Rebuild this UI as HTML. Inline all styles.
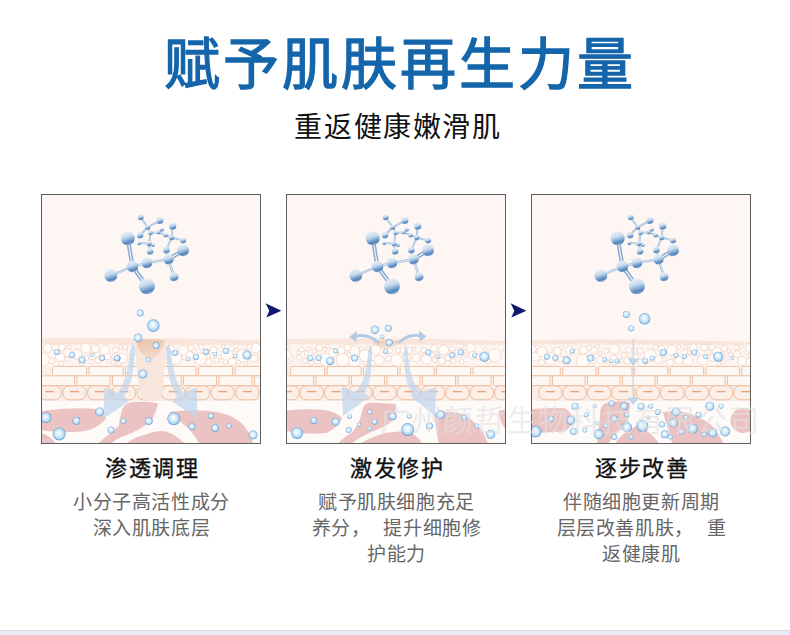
<!DOCTYPE html>
<html lang="zh-CN"><head><meta charset="utf-8"><style>
*{margin:0;padding:0;box-sizing:border-box}
html,body{width:790px;height:635px;overflow:hidden;background:#fff}
body{position:relative;font-family:"Liberation Sans",sans-serif}
.t{position:absolute;white-space:nowrap}
#title{left:5px;width:790px;text-align:center;top:19px;font-size:56px;font-weight:normal;-webkit-text-stroke:1.3px #1465aa;color:#1465aa;letter-spacing:3px}
#sub{left:3px;width:790px;text-align:center;top:105px;font-size:28px;color:#111;letter-spacing:1.6px}
.box{position:absolute;top:194px;width:220px;height:250px;border:1px solid #5e5e5e;background:#fdf6f3;overflow:hidden}
.box svg{position:absolute;left:0;top:0}
.h{position:absolute;top:450px;width:220px;text-align:center;font-size:22px;color:#111;-webkit-text-stroke:0.35px #111;letter-spacing:1.5px;padding-left:2px}
.d{position:absolute;top:490px;width:220px;text-align:center;font-size:19px;line-height:26px;color:#666;font-weight:300;letter-spacing:0.6px;padding-left:1px}
.arr{position:absolute}
#wm{left:380px;top:396px;font-size:30px;font-weight:300;letter-spacing:1.7px;color:rgba(226,226,226,0.62)}
#strip{position:absolute;left:0;top:630px;width:790px;height:5px;background:#e9ecf5;border-top:1px solid #d8dbe1}
</style></head>
<body>
<div class="t" id="title">赋予肌肤再生力量</div>
<div class="t" id="sub">重返健康嫩滑肌</div>
<div class="box" style="left:41px"><svg width="220" height="250" viewBox="41 194 220 250" style="left:-1px;top:-1px"><defs>
<linearGradient id="atom" x1="0.3" y1="0" x2="0.6" y2="1">
<stop offset="0" stop-color="#eaf2f9"/><stop offset="0.4" stop-color="#c9dcee"/><stop offset="0.62" stop-color="#8bb0d7"/><stop offset="0.82" stop-color="#5583b8"/><stop offset="1" stop-color="#98b8da"/></linearGradient>
<radialGradient id="bub" cx="0.5" cy="0.5" r="0.55" fx="0.45" fy="0.4">
<stop offset="0" stop-color="#ffffff"/><stop offset="0.45" stop-color="#d6edfb"/><stop offset="0.75" stop-color="#9fcff2"/><stop offset="0.9" stop-color="#5190d0"/><stop offset="1" stop-color="#9ccbf0"/></radialGradient>
<linearGradient id="arrg" x1="0" y1="0" x2="0" y2="1"><stop offset="0" stop-color="#c9dbee" stop-opacity="0.5"/><stop offset="1" stop-color="#bcd3ea" stop-opacity="0.85"/></linearGradient>
<linearGradient id="pore" x1="0" y1="0" x2="0.3" y2="1"><stop offset="0" stop-color="#e8c2a6"/><stop offset="1" stop-color="#f3dccd"/></linearGradient>
</defs><rect x="41" y="194" width="220" height="250" fill="#fdf6f3"/><g transform="translate(0,0)"><line x1="140.6" y1="217.3" x2="147.7" y2="227.2" stroke="#8fb3d8" stroke-width="1.7999999999999998"/><line x1="140.6" y1="217.3" x2="147.7" y2="227.2" stroke="#d6e6f4" stroke-width="0.7999999999999999"/><line x1="159.9" y1="220.6" x2="147.7" y2="227.2" stroke="#8fb3d8" stroke-width="1.7999999999999998"/><line x1="159.9" y1="220.6" x2="147.7" y2="227.2" stroke="#d6e6f4" stroke-width="0.7999999999999999"/><line x1="147.7" y1="227.2" x2="140.1" y2="235.2" stroke="#8fb3d8" stroke-width="1.7999999999999998"/><line x1="147.7" y1="227.2" x2="140.1" y2="235.2" stroke="#d6e6f4" stroke-width="0.7999999999999999"/><line x1="147.7" y1="227.2" x2="150.5" y2="232.9" stroke="#8fb3d8" stroke-width="1.7999999999999998"/><line x1="147.7" y1="227.2" x2="150.5" y2="232.9" stroke="#d6e6f4" stroke-width="0.7999999999999999"/><line x1="150.5" y1="232.9" x2="149.1" y2="243.7" stroke="#8fb3d8" stroke-width="1.7999999999999998"/><line x1="150.5" y1="232.9" x2="149.1" y2="243.7" stroke="#d6e6f4" stroke-width="0.7999999999999999"/><line x1="149.1" y1="243.7" x2="139.2" y2="243.2" stroke="#8fb3d8" stroke-width="1.7999999999999998"/><line x1="149.1" y1="243.7" x2="139.2" y2="243.2" stroke="#d6e6f4" stroke-width="0.7999999999999999"/><line x1="149.1" y1="243.7" x2="152.9" y2="245.1" stroke="#8fb3d8" stroke-width="1.7999999999999998"/><line x1="149.1" y1="243.7" x2="152.9" y2="245.1" stroke="#d6e6f4" stroke-width="0.7999999999999999"/><line x1="149.1" y1="243.7" x2="150.0" y2="251.3" stroke="#8fb3d8" stroke-width="1.7999999999999998"/><line x1="149.1" y1="243.7" x2="150.0" y2="251.3" stroke="#d6e6f4" stroke-width="0.7999999999999999"/><line x1="150.5" y1="232.9" x2="158.5" y2="232.4" stroke="#8fb3d8" stroke-width="1.7999999999999998"/><line x1="150.5" y1="232.9" x2="158.5" y2="232.4" stroke="#d6e6f4" stroke-width="0.7999999999999999"/><line x1="158.5" y1="232.4" x2="161.8" y2="229.6" stroke="#8fb3d8" stroke-width="1.7999999999999998"/><line x1="158.5" y1="232.4" x2="161.8" y2="229.6" stroke="#d6e6f4" stroke-width="0.7999999999999999"/><line x1="158.5" y1="232.4" x2="165.6" y2="235.2" stroke="#8fb3d8" stroke-width="1.7999999999999998"/><line x1="158.5" y1="232.4" x2="165.6" y2="235.2" stroke="#d6e6f4" stroke-width="0.7999999999999999"/><line x1="165.6" y1="235.2" x2="171.7" y2="237.6" stroke="#8fb3d8" stroke-width="1.7999999999999998"/><line x1="165.6" y1="235.2" x2="171.7" y2="237.6" stroke="#d6e6f4" stroke-width="0.7999999999999999"/><line x1="172.7" y1="226.2" x2="171.7" y2="237.6" stroke="#8fb3d8" stroke-width="1.7999999999999998"/><line x1="172.7" y1="226.2" x2="171.7" y2="237.6" stroke="#d6e6f4" stroke-width="0.7999999999999999"/><line x1="171.7" y1="237.6" x2="183.1" y2="240.4" stroke="#8fb3d8" stroke-width="1.7999999999999998"/><line x1="171.7" y1="237.6" x2="183.1" y2="240.4" stroke="#d6e6f4" stroke-width="0.7999999999999999"/><line x1="171.7" y1="237.6" x2="166.3" y2="250.0" stroke="#8fb3d8" stroke-width="1.7999999999999998"/><line x1="171.7" y1="237.6" x2="166.3" y2="250.0" stroke="#d6e6f4" stroke-width="0.7999999999999999"/><line x1="166.3" y1="250.0" x2="168.5" y2="259.3" stroke="#8fb3d8" stroke-width="2.2"/><line x1="166.3" y1="250.0" x2="168.5" y2="259.3" stroke="#d6e6f4" stroke-width="1.2000000000000002"/><line x1="168.5" y1="259.3" x2="174.0" y2="276.7" stroke="#8fb3d8" stroke-width="2.2"/><line x1="168.5" y1="259.3" x2="174.0" y2="276.7" stroke="#d6e6f4" stroke-width="1.2000000000000002"/><line x1="132.5" y1="266.5" x2="110.8" y2="275.5" stroke="#8fb3d8" stroke-width="2.2"/><line x1="132.5" y1="266.5" x2="110.8" y2="275.5" stroke="#d6e6f4" stroke-width="1.2000000000000002"/><line x1="132.5" y1="266.5" x2="146.9" y2="262.9" stroke="#8fb3d8" stroke-width="2.2"/><line x1="132.5" y1="266.5" x2="146.9" y2="262.9" stroke="#d6e6f4" stroke-width="1.2000000000000002"/><line x1="146.9" y1="262.9" x2="168.5" y2="259.3" stroke="#8fb3d8" stroke-width="2.2"/><line x1="146.9" y1="262.9" x2="168.5" y2="259.3" stroke="#d6e6f4" stroke-width="1.2000000000000002"/><line x1="126.4" y1="238.4" x2="131.2" y2="266.7" stroke="#86acd4" stroke-width="1.5"/><line x1="129.0" y1="238.0" x2="133.8" y2="266.3" stroke="#86acd4" stroke-width="1.5"/><line x1="131.4" y1="267.3" x2="145.8" y2="287.1" stroke="#86acd4" stroke-width="1.5"/><line x1="133.6" y1="265.7" x2="148.0" y2="285.5" stroke="#86acd4" stroke-width="1.5"/><line x1="169.2" y1="260.4" x2="183.7" y2="251.4" stroke="#86acd4" stroke-width="1.5"/><line x1="167.8" y1="258.2" x2="182.3" y2="249.2" stroke="#86acd4" stroke-width="1.5"/><circle cx="158.5" cy="232.4" r="2.0" fill="url(#atom)"/><circle cx="139.2" cy="243.2" r="2.0" fill="url(#atom)"/><circle cx="152.9" cy="245.1" r="2.0" fill="url(#atom)"/><circle cx="161.8" cy="229.6" r="2.2" fill="url(#atom)"/><circle cx="150.5" cy="232.9" r="2.4" fill="url(#atom)"/><circle cx="165.6" cy="235.2" r="2.4" fill="url(#atom)"/><circle cx="147.7" cy="227.2" r="2.6" fill="url(#atom)"/><circle cx="149.1" cy="243.7" r="2.6" fill="url(#atom)"/><circle cx="171.7" cy="237.6" r="2.8" fill="url(#atom)"/><circle cx="140.6" cy="217.3" r="3.0" fill="url(#atom)"/><circle cx="183.1" cy="240.4" r="3.0" fill="url(#atom)"/><circle cx="140.1" cy="235.2" r="3.2" fill="url(#atom)"/><circle cx="150.0" cy="251.3" r="3.4" fill="url(#atom)"/><circle cx="166.3" cy="250.0" r="3.4" fill="url(#atom)"/><circle cx="159.9" cy="220.6" r="3.5" fill="url(#atom)"/><circle cx="172.7" cy="226.2" r="3.6" fill="url(#atom)"/><circle cx="174.0" cy="276.7" r="4.5" fill="url(#atom)"/><circle cx="168.5" cy="259.3" r="5.2" fill="url(#atom)"/><circle cx="146.9" cy="262.9" r="5.4" fill="url(#atom)"/><circle cx="132.5" cy="266.5" r="5.8" fill="url(#atom)"/><circle cx="183.0" cy="250.3" r="6.0" fill="url(#atom)"/><circle cx="110.8" cy="275.5" r="6.5" fill="url(#atom)"/><circle cx="127.7" cy="238.2" r="7.0" fill="url(#atom)"/><circle cx="146.9" cy="286.3" r="8.0" fill="url(#atom)"/></g><rect x="41" y="399" width="220" height="46" fill="#fefaf8"/><path d="M41 338.5 Q151 337.0 261 340.5 L261 401 L41 401 Z" fill="#fbeee7"/><path d="M41 338.5 Q151 337.0 261 340.5 L261 345 L41 344.5 Z" fill="#f9e5db"/><path d="M41 344.5 L261 345 L261 366.4 L41 366.4 Z" fill="#fdf5f1"/><circle cx="166.2" cy="360.0" r="3.0" fill="#fffcfa" stroke="#f1d3c1" stroke-width="0.8"/><circle cx="97.1" cy="354.9" r="2.5" fill="#fffcfa" stroke="#f1d3c1" stroke-width="0.8"/><circle cx="144.9" cy="353.5" r="6.0" fill="#fffcfa" stroke="#f1d3c1" stroke-width="0.8"/><circle cx="61.6" cy="347.5" r="3.5" fill="#fffcfa" stroke="#f1d3c1" stroke-width="0.8"/><circle cx="136.2" cy="358.7" r="5.0" fill="#fffcfa" stroke="#f1d3c1" stroke-width="0.8"/><circle cx="194.1" cy="350.9" r="2.0" fill="#fffcfa" stroke="#f1d3c1" stroke-width="0.8"/><circle cx="171.1" cy="348.7" r="3.5" fill="#fffcfa" stroke="#f1d3c1" stroke-width="0.8"/><circle cx="47.7" cy="348.1" r="4.5" fill="#fffcfa" stroke="#f1d3c1" stroke-width="0.8"/><circle cx="43.0" cy="359.7" r="6.5" fill="#fffcfa" stroke="#f1d3c1" stroke-width="0.8"/><circle cx="254.2" cy="358.6" r="3.5" fill="#fffcfa" stroke="#f1d3c1" stroke-width="0.8"/><circle cx="162.6" cy="353.0" r="6.0" fill="#fffcfa" stroke="#f1d3c1" stroke-width="0.8"/><circle cx="208.4" cy="362.1" r="3.5" fill="#fffcfa" stroke="#f1d3c1" stroke-width="0.8"/><circle cx="81.9" cy="363.4" r="2.5" fill="#fffcfa" stroke="#f1d3c1" stroke-width="0.8"/><circle cx="67.6" cy="352.5" r="4.0" fill="#fffcfa" stroke="#f1d3c1" stroke-width="0.8"/><circle cx="107.7" cy="356.4" r="3.5" fill="#fffcfa" stroke="#f1d3c1" stroke-width="0.8"/><circle cx="227.2" cy="355.1" r="6.0" fill="#fffcfa" stroke="#f1d3c1" stroke-width="0.8"/><circle cx="132.1" cy="350.4" r="5.0" fill="#fffcfa" stroke="#f1d3c1" stroke-width="0.8"/><circle cx="60.0" cy="357.4" r="4.5" fill="#fffcfa" stroke="#f1d3c1" stroke-width="0.8"/><circle cx="212.3" cy="355.4" r="2.5" fill="#fffcfa" stroke="#f1d3c1" stroke-width="0.8"/><circle cx="122.5" cy="358.3" r="5.0" fill="#fffcfa" stroke="#f1d3c1" stroke-width="0.8"/><circle cx="183.4" cy="350.4" r="5.0" fill="#fffcfa" stroke="#f1d3c1" stroke-width="0.8"/><circle cx="243.4" cy="355.6" r="6.5" fill="#fffcfa" stroke="#f1d3c1" stroke-width="0.8"/><circle cx="154.0" cy="361.3" r="5.0" fill="#fffcfa" stroke="#f1d3c1" stroke-width="0.8"/><circle cx="175.0" cy="357.8" r="6.5" fill="#fffcfa" stroke="#f1d3c1" stroke-width="0.8"/><circle cx="216.7" cy="360.1" r="2.5" fill="#fffcfa" stroke="#f1d3c1" stroke-width="0.8"/><circle cx="206.9" cy="351.1" r="2.0" fill="#fffcfa" stroke="#f1d3c1" stroke-width="0.8"/><circle cx="104.9" cy="350.1" r="4.5" fill="#fffcfa" stroke="#f1d3c1" stroke-width="0.8"/><circle cx="108.4" cy="361.3" r="2.0" fill="#fffcfa" stroke="#f1d3c1" stroke-width="0.8"/><circle cx="86.3" cy="358.0" r="2.5" fill="#fffcfa" stroke="#f1d3c1" stroke-width="0.8"/><circle cx="115.6" cy="350.3" r="3.0" fill="#fffcfa" stroke="#f1d3c1" stroke-width="0.8"/><circle cx="225.3" cy="362.3" r="2.5" fill="#fffcfa" stroke="#f1d3c1" stroke-width="0.8"/><circle cx="55.4" cy="347.7" r="3.5" fill="#fffcfa" stroke="#f1d3c1" stroke-width="0.8"/><circle cx="223.1" cy="346.4" r="2.0" fill="#fffcfa" stroke="#f1d3c1" stroke-width="0.8"/><circle cx="76.6" cy="354.3" r="5.0" fill="#fffcfa" stroke="#f1d3c1" stroke-width="0.8"/><circle cx="184.4" cy="357.4" r="2.5" fill="#fffcfa" stroke="#f1d3c1" stroke-width="0.8"/><circle cx="95.1" cy="348.9" r="4.0" fill="#fffcfa" stroke="#f1d3c1" stroke-width="0.8"/><circle cx="201.4" cy="346.9" r="2.5" fill="#fffcfa" stroke="#f1d3c1" stroke-width="0.8"/><circle cx="51.7" cy="360.9" r="3.0" fill="#fffcfa" stroke="#f1d3c1" stroke-width="0.8"/><circle cx="255.8" cy="348.3" r="5.0" fill="#fffcfa" stroke="#f1d3c1" stroke-width="0.8"/><circle cx="98.0" cy="360.4" r="3.0" fill="#fffcfa" stroke="#f1d3c1" stroke-width="0.8"/><circle cx="67.0" cy="359.4" r="2.0" fill="#fffcfa" stroke="#f1d3c1" stroke-width="0.8"/><circle cx="85.9" cy="348.1" r="5.0" fill="#fffcfa" stroke="#f1d3c1" stroke-width="0.8"/><circle cx="213.8" cy="350.1" r="3.5" fill="#fffcfa" stroke="#f1d3c1" stroke-width="0.8"/><circle cx="236.6" cy="350.0" r="2.0" fill="#fffcfa" stroke="#f1d3c1" stroke-width="0.8"/><circle cx="142.8" cy="360.8" r="2.5" fill="#fffcfa" stroke="#f1d3c1" stroke-width="0.8"/><circle cx="68.9" cy="346.8" r="2.0" fill="#fffcfa" stroke="#f1d3c1" stroke-width="0.8"/><circle cx="200.7" cy="359.0" r="6.0" fill="#fffcfa" stroke="#f1d3c1" stroke-width="0.8"/><circle cx="118.4" cy="363.6" r="2.0" fill="#fffcfa" stroke="#f1d3c1" stroke-width="0.8"/><circle cx="160.0" cy="360.7" r="2.0" fill="#fffcfa" stroke="#f1d3c1" stroke-width="0.8"/><circle cx="238.7" cy="362.5" r="2.0" fill="#fffcfa" stroke="#f1d3c1" stroke-width="0.8"/><circle cx="259.9" cy="360.5" r="2.0" fill="#fffcfa" stroke="#f1d3c1" stroke-width="0.8"/><circle cx="231.6" cy="348.6" r="2.5" fill="#fffcfa" stroke="#f1d3c1" stroke-width="0.8"/><circle cx="152.8" cy="351.4" r="3.5" fill="#fffcfa" stroke="#f1d3c1" stroke-width="0.8"/><circle cx="115.4" cy="356.7" r="3.5" fill="#fffcfa" stroke="#f1d3c1" stroke-width="0.8"/><circle cx="221.8" cy="360.7" r="2.0" fill="#fffcfa" stroke="#f1d3c1" stroke-width="0.8"/><circle cx="190.9" cy="347.5" r="3.0" fill="#fffcfa" stroke="#f1d3c1" stroke-width="0.8"/><circle cx="61.2" cy="363.5" r="2.5" fill="#fffcfa" stroke="#f1d3c1" stroke-width="0.8"/><circle cx="120.6" cy="347.6" r="2.0" fill="#fffcfa" stroke="#f1d3c1" stroke-width="0.8"/><circle cx="159.2" cy="346.4" r="2.0" fill="#fffcfa" stroke="#f1d3c1" stroke-width="0.8"/><circle cx="249.3" cy="346.8" r="2.5" fill="#fffcfa" stroke="#f1d3c1" stroke-width="0.8"/><circle cx="203.3" cy="351.5" r="2.0" fill="#fffcfa" stroke="#f1d3c1" stroke-width="0.8"/><circle cx="92.2" cy="356.4" r="3.5" fill="#fffcfa" stroke="#f1d3c1" stroke-width="0.8"/><circle cx="91.6" cy="361.8" r="2.0" fill="#fffcfa" stroke="#f1d3c1" stroke-width="0.8"/><circle cx="189.6" cy="355.4" r="4.0" fill="#fffcfa" stroke="#f1d3c1" stroke-width="0.8"/><circle cx="259.3" cy="353.9" r="2.0" fill="#fffcfa" stroke="#f1d3c1" stroke-width="0.8"/><circle cx="232.3" cy="361.9" r="4.0" fill="#fffcfa" stroke="#f1d3c1" stroke-width="0.8"/><circle cx="113.2" cy="362.8" r="2.0" fill="#fffcfa" stroke="#f1d3c1" stroke-width="0.8"/><circle cx="125.4" cy="347.0" r="2.5" fill="#fffcfa" stroke="#f1d3c1" stroke-width="0.8"/><circle cx="101.9" cy="357.1" r="2.0" fill="#fffcfa" stroke="#f1d3c1" stroke-width="0.8"/><circle cx="245.8" cy="363.5" r="2.0" fill="#fffcfa" stroke="#f1d3c1" stroke-width="0.8"/><rect x="52.6" y="366.4" width="34.0" height="9.4" rx="1.2" fill="#fdf8f4" stroke="#eec2a6" stroke-width="1"/><rect x="89.1" y="366.4" width="34.0" height="9.4" rx="1.2" fill="#fdf8f4" stroke="#eec2a6" stroke-width="1"/><rect x="125.6" y="366.4" width="34.0" height="9.4" rx="1.2" fill="#fdf8f4" stroke="#eec2a6" stroke-width="1"/><rect x="162.1" y="366.4" width="34.0" height="9.4" rx="1.2" fill="#fdf8f4" stroke="#eec2a6" stroke-width="1"/><rect x="198.6" y="366.4" width="34.0" height="9.4" rx="1.2" fill="#fdf8f4" stroke="#eec2a6" stroke-width="1"/><rect x="235.1" y="366.4" width="34.0" height="9.4" rx="1.2" fill="#fdf8f4" stroke="#eec2a6" stroke-width="1"/><rect x="41.5" y="375.8" width="33.0" height="9.8" rx="1.2" fill="#fdf8f4" stroke="#eec2a6" stroke-width="1"/><rect x="77.0" y="375.8" width="33.0" height="9.8" rx="1.2" fill="#fdf8f4" stroke="#eec2a6" stroke-width="1"/><rect x="112.5" y="375.8" width="33.0" height="9.8" rx="1.2" fill="#fdf8f4" stroke="#eec2a6" stroke-width="1"/><rect x="148.0" y="375.8" width="33.0" height="9.8" rx="1.2" fill="#fdf8f4" stroke="#eec2a6" stroke-width="1"/><rect x="183.5" y="375.8" width="33.0" height="9.8" rx="1.2" fill="#fdf8f4" stroke="#eec2a6" stroke-width="1"/><rect x="219.0" y="375.8" width="33.0" height="9.8" rx="1.2" fill="#fdf8f4" stroke="#eec2a6" stroke-width="1"/><rect x="254.5" y="375.8" width="33.0" height="9.8" rx="1.2" fill="#fdf8f4" stroke="#eec2a6" stroke-width="1"/><rect x="38.3" y="385.8" width="23" height="14" rx="6" fill="#fcefe7" stroke="#ebbc9e" stroke-width="1"/><line x1="45.3" y1="391.6" x2="54.3" y2="391.6" stroke="#e2a680" stroke-width="1.4"/><rect x="63.0" y="385.8" width="23" height="14" rx="6" fill="#fcefe7" stroke="#ebbc9e" stroke-width="1"/><line x1="70.0" y1="391.6" x2="79.0" y2="391.6" stroke="#e2a680" stroke-width="1.4"/><rect x="87.7" y="385.8" width="23" height="14" rx="6" fill="#fcefe7" stroke="#ebbc9e" stroke-width="1"/><line x1="94.7" y1="391.6" x2="103.7" y2="391.6" stroke="#e2a680" stroke-width="1.4"/><rect x="112.4" y="385.8" width="23" height="14" rx="6" fill="#fcefe7" stroke="#ebbc9e" stroke-width="1"/><line x1="119.4" y1="391.6" x2="128.4" y2="391.6" stroke="#e2a680" stroke-width="1.4"/><rect x="137.1" y="385.8" width="23" height="14" rx="6" fill="#fcefe7" stroke="#ebbc9e" stroke-width="1"/><line x1="144.1" y1="391.6" x2="153.1" y2="391.6" stroke="#e2a680" stroke-width="1.4"/><rect x="161.8" y="385.8" width="23" height="14" rx="6" fill="#fcefe7" stroke="#ebbc9e" stroke-width="1"/><line x1="168.8" y1="391.6" x2="177.8" y2="391.6" stroke="#e2a680" stroke-width="1.4"/><rect x="186.5" y="385.8" width="23" height="14" rx="6" fill="#fcefe7" stroke="#ebbc9e" stroke-width="1"/><line x1="193.5" y1="391.6" x2="202.5" y2="391.6" stroke="#e2a680" stroke-width="1.4"/><rect x="211.2" y="385.8" width="23" height="14" rx="6" fill="#fcefe7" stroke="#ebbc9e" stroke-width="1"/><line x1="218.2" y1="391.6" x2="227.2" y2="391.6" stroke="#e2a680" stroke-width="1.4"/><rect x="235.9" y="385.8" width="23" height="14" rx="6" fill="#fcefe7" stroke="#ebbc9e" stroke-width="1"/><line x1="242.9" y1="391.6" x2="251.9" y2="391.6" stroke="#e2a680" stroke-width="1.4"/><rect x="260.6" y="385.8" width="23" height="14" rx="6" fill="#fcefe7" stroke="#ebbc9e" stroke-width="1"/><line x1="267.6" y1="391.6" x2="276.6" y2="391.6" stroke="#e2a680" stroke-width="1.4"/><path d="M134 339 L167 339 Q164 370 162 398 Q151 404 140 398 Q137 370 134 339 Z" fill="#f8e6dc"/><path d="M136 340.5 Q150 338 165 340.5 Q161 356 150 360 Q139 356 136 340.5 Z" fill="url(#pore)"/><path d="M41 411 Q70 407 96 409 Q103 412 106 419 Q96 430 82 431.5 Q60 433 41 430 Z" fill="#ebc3c3"/><path d="M41 433 Q50 435 57 445 L41 445 Z" fill="#ebc3c3"/><path d="M96 445 Q112 432 118.7 426 Q121 410 124 406 Q130 401 138 402 Q150 401 158 403.4 Q156 412 152 420 Q138 432 121.5 437 Q114 440 110 445 Z" fill="#ebc3c3"/><path d="M124 445 Q134 437 146.7 434.3 Q158 430 166.4 431.5 Q178 436 186 445 Z" fill="#ebc3c3"/><path d="M169 412 Q185 410 200 410.4 Q220 411 231 416 Q244 423 248 431.5 Q252 438 253.5 445 L200 445 Q195 436 189 428.7 Q178 420 169 412 Z" fill="#ebc3c3"/><path d="M132.5 344 Q135 346 135 350 Q134 382 124 396 L129 401.6 L103.5 418.6 L104.2 387.4 L118 393 Q128 378 130 350 Z" fill="#bed4ec" fill-opacity="0.7"/><path d="M168.5 344 Q166 346 166 350 Q167 382 177 396 L172 401.6 L197.5 418.6 L196.8 387.4 L183 393 Q173 378 171 350 Z" fill="#bed4ec" fill-opacity="0.7"/><circle cx="140.2" cy="313.0" r="3.5" fill="url(#bub)" fill-opacity="0.92"/><circle cx="153.3" cy="325.6" r="6.3" fill="url(#bub)" fill-opacity="0.92"/><circle cx="138.0" cy="337.8" r="4.3" fill="url(#bub)" fill-opacity="0.92"/><circle cx="156.1" cy="345.6" r="3.5" fill="url(#bub)" fill-opacity="0.92"/><circle cx="148.6" cy="359.8" r="2.5" fill="url(#bub)" fill-opacity="0.92"/><circle cx="142.8" cy="374.0" r="4.5" fill="url(#bub)" fill-opacity="0.92"/><circle cx="117.6" cy="358.2" r="3.0" fill="url(#bub)" fill-opacity="0.92"/><circle cx="99.6" cy="411.9" r="4.5" fill="url(#bub)" fill-opacity="0.92"/><circle cx="111.0" cy="430.0" r="3.5" fill="url(#bub)" fill-opacity="0.92"/><circle cx="123.5" cy="421.0" r="3.0" fill="url(#bub)" fill-opacity="0.92"/><circle cx="148.7" cy="421.0" r="4.0" fill="url(#bub)" fill-opacity="0.92"/><circle cx="173.8" cy="418.7" r="6.5" fill="url(#bub)" fill-opacity="0.92"/><circle cx="192.0" cy="426.7" r="3.5" fill="url(#bub)" fill-opacity="0.92"/><circle cx="46.0" cy="417.7" r="5.5" fill="url(#bub)" fill-opacity="0.92"/><circle cx="59.2" cy="434.0" r="6.5" fill="url(#bub)" fill-opacity="0.92"/><circle cx="76.4" cy="420.8" r="4.0" fill="url(#bub)" fill-opacity="0.92"/><circle cx="211.0" cy="416.0" r="3.0" fill="url(#bub)" fill-opacity="0.92"/><circle cx="215.0" cy="428.0" r="4.0" fill="url(#bub)" fill-opacity="0.92"/><circle cx="229.0" cy="426.0" r="2.5" fill="url(#bub)" fill-opacity="0.92"/><circle cx="253.0" cy="435.0" r="4.5" fill="url(#bub)" fill-opacity="0.92"/><circle cx="57.0" cy="352.0" r="3.0" fill="url(#bub)" fill-opacity="0.92"/><circle cx="72.0" cy="355.0" r="3.0" fill="url(#bub)" fill-opacity="0.92"/><circle cx="82.0" cy="360.0" r="3.5" fill="url(#bub)" fill-opacity="0.92"/><circle cx="92.0" cy="355.0" r="2.0" fill="url(#bub)" fill-opacity="0.92"/><circle cx="102.0" cy="358.0" r="3.0" fill="url(#bub)" fill-opacity="0.92"/><circle cx="117.0" cy="358.0" r="3.0" fill="url(#bub)" fill-opacity="0.92"/><circle cx="175.0" cy="353.0" r="3.0" fill="url(#bub)" fill-opacity="0.92"/><circle cx="188.0" cy="359.0" r="2.2" fill="url(#bub)" fill-opacity="0.92"/><circle cx="196.0" cy="357.0" r="3.0" fill="url(#bub)" fill-opacity="0.92"/><circle cx="206.0" cy="352.0" r="3.0" fill="url(#bub)" fill-opacity="0.92"/><circle cx="215.0" cy="354.0" r="2.2" fill="url(#bub)" fill-opacity="0.92"/><circle cx="226.0" cy="351.0" r="3.0" fill="url(#bub)" fill-opacity="0.92"/><circle cx="235.0" cy="356.0" r="2.2" fill="url(#bub)" fill-opacity="0.92"/><circle cx="247.0" cy="355.0" r="4.5" fill="url(#bub)" fill-opacity="0.92"/></svg></div>
<div class="h" style="left:41px">渗透调理</div>
<div class="d" style="left:41px">小分子高活性成分<br>深入肌肤底层</div>
<div class="box" style="left:286px"><svg width="220" height="250" viewBox="286 194 220 250" style="left:-1px;top:-1px"><rect x="286" y="194" width="220" height="250" fill="#fdf6f3"/><g transform="translate(245,0)"><line x1="140.6" y1="217.3" x2="147.7" y2="227.2" stroke="#8fb3d8" stroke-width="1.7999999999999998"/><line x1="140.6" y1="217.3" x2="147.7" y2="227.2" stroke="#d6e6f4" stroke-width="0.7999999999999999"/><line x1="159.9" y1="220.6" x2="147.7" y2="227.2" stroke="#8fb3d8" stroke-width="1.7999999999999998"/><line x1="159.9" y1="220.6" x2="147.7" y2="227.2" stroke="#d6e6f4" stroke-width="0.7999999999999999"/><line x1="147.7" y1="227.2" x2="140.1" y2="235.2" stroke="#8fb3d8" stroke-width="1.7999999999999998"/><line x1="147.7" y1="227.2" x2="140.1" y2="235.2" stroke="#d6e6f4" stroke-width="0.7999999999999999"/><line x1="147.7" y1="227.2" x2="150.5" y2="232.9" stroke="#8fb3d8" stroke-width="1.7999999999999998"/><line x1="147.7" y1="227.2" x2="150.5" y2="232.9" stroke="#d6e6f4" stroke-width="0.7999999999999999"/><line x1="150.5" y1="232.9" x2="149.1" y2="243.7" stroke="#8fb3d8" stroke-width="1.7999999999999998"/><line x1="150.5" y1="232.9" x2="149.1" y2="243.7" stroke="#d6e6f4" stroke-width="0.7999999999999999"/><line x1="149.1" y1="243.7" x2="139.2" y2="243.2" stroke="#8fb3d8" stroke-width="1.7999999999999998"/><line x1="149.1" y1="243.7" x2="139.2" y2="243.2" stroke="#d6e6f4" stroke-width="0.7999999999999999"/><line x1="149.1" y1="243.7" x2="152.9" y2="245.1" stroke="#8fb3d8" stroke-width="1.7999999999999998"/><line x1="149.1" y1="243.7" x2="152.9" y2="245.1" stroke="#d6e6f4" stroke-width="0.7999999999999999"/><line x1="149.1" y1="243.7" x2="150.0" y2="251.3" stroke="#8fb3d8" stroke-width="1.7999999999999998"/><line x1="149.1" y1="243.7" x2="150.0" y2="251.3" stroke="#d6e6f4" stroke-width="0.7999999999999999"/><line x1="150.5" y1="232.9" x2="158.5" y2="232.4" stroke="#8fb3d8" stroke-width="1.7999999999999998"/><line x1="150.5" y1="232.9" x2="158.5" y2="232.4" stroke="#d6e6f4" stroke-width="0.7999999999999999"/><line x1="158.5" y1="232.4" x2="161.8" y2="229.6" stroke="#8fb3d8" stroke-width="1.7999999999999998"/><line x1="158.5" y1="232.4" x2="161.8" y2="229.6" stroke="#d6e6f4" stroke-width="0.7999999999999999"/><line x1="158.5" y1="232.4" x2="165.6" y2="235.2" stroke="#8fb3d8" stroke-width="1.7999999999999998"/><line x1="158.5" y1="232.4" x2="165.6" y2="235.2" stroke="#d6e6f4" stroke-width="0.7999999999999999"/><line x1="165.6" y1="235.2" x2="171.7" y2="237.6" stroke="#8fb3d8" stroke-width="1.7999999999999998"/><line x1="165.6" y1="235.2" x2="171.7" y2="237.6" stroke="#d6e6f4" stroke-width="0.7999999999999999"/><line x1="172.7" y1="226.2" x2="171.7" y2="237.6" stroke="#8fb3d8" stroke-width="1.7999999999999998"/><line x1="172.7" y1="226.2" x2="171.7" y2="237.6" stroke="#d6e6f4" stroke-width="0.7999999999999999"/><line x1="171.7" y1="237.6" x2="183.1" y2="240.4" stroke="#8fb3d8" stroke-width="1.7999999999999998"/><line x1="171.7" y1="237.6" x2="183.1" y2="240.4" stroke="#d6e6f4" stroke-width="0.7999999999999999"/><line x1="171.7" y1="237.6" x2="166.3" y2="250.0" stroke="#8fb3d8" stroke-width="1.7999999999999998"/><line x1="171.7" y1="237.6" x2="166.3" y2="250.0" stroke="#d6e6f4" stroke-width="0.7999999999999999"/><line x1="166.3" y1="250.0" x2="168.5" y2="259.3" stroke="#8fb3d8" stroke-width="2.2"/><line x1="166.3" y1="250.0" x2="168.5" y2="259.3" stroke="#d6e6f4" stroke-width="1.2000000000000002"/><line x1="168.5" y1="259.3" x2="174.0" y2="276.7" stroke="#8fb3d8" stroke-width="2.2"/><line x1="168.5" y1="259.3" x2="174.0" y2="276.7" stroke="#d6e6f4" stroke-width="1.2000000000000002"/><line x1="132.5" y1="266.5" x2="110.8" y2="275.5" stroke="#8fb3d8" stroke-width="2.2"/><line x1="132.5" y1="266.5" x2="110.8" y2="275.5" stroke="#d6e6f4" stroke-width="1.2000000000000002"/><line x1="132.5" y1="266.5" x2="146.9" y2="262.9" stroke="#8fb3d8" stroke-width="2.2"/><line x1="132.5" y1="266.5" x2="146.9" y2="262.9" stroke="#d6e6f4" stroke-width="1.2000000000000002"/><line x1="146.9" y1="262.9" x2="168.5" y2="259.3" stroke="#8fb3d8" stroke-width="2.2"/><line x1="146.9" y1="262.9" x2="168.5" y2="259.3" stroke="#d6e6f4" stroke-width="1.2000000000000002"/><line x1="126.4" y1="238.4" x2="131.2" y2="266.7" stroke="#86acd4" stroke-width="1.5"/><line x1="129.0" y1="238.0" x2="133.8" y2="266.3" stroke="#86acd4" stroke-width="1.5"/><line x1="131.4" y1="267.3" x2="145.8" y2="287.1" stroke="#86acd4" stroke-width="1.5"/><line x1="133.6" y1="265.7" x2="148.0" y2="285.5" stroke="#86acd4" stroke-width="1.5"/><line x1="169.2" y1="260.4" x2="183.7" y2="251.4" stroke="#86acd4" stroke-width="1.5"/><line x1="167.8" y1="258.2" x2="182.3" y2="249.2" stroke="#86acd4" stroke-width="1.5"/><circle cx="158.5" cy="232.4" r="2.0" fill="url(#atom)"/><circle cx="139.2" cy="243.2" r="2.0" fill="url(#atom)"/><circle cx="152.9" cy="245.1" r="2.0" fill="url(#atom)"/><circle cx="161.8" cy="229.6" r="2.2" fill="url(#atom)"/><circle cx="150.5" cy="232.9" r="2.4" fill="url(#atom)"/><circle cx="165.6" cy="235.2" r="2.4" fill="url(#atom)"/><circle cx="147.7" cy="227.2" r="2.6" fill="url(#atom)"/><circle cx="149.1" cy="243.7" r="2.6" fill="url(#atom)"/><circle cx="171.7" cy="237.6" r="2.8" fill="url(#atom)"/><circle cx="140.6" cy="217.3" r="3.0" fill="url(#atom)"/><circle cx="183.1" cy="240.4" r="3.0" fill="url(#atom)"/><circle cx="140.1" cy="235.2" r="3.2" fill="url(#atom)"/><circle cx="150.0" cy="251.3" r="3.4" fill="url(#atom)"/><circle cx="166.3" cy="250.0" r="3.4" fill="url(#atom)"/><circle cx="159.9" cy="220.6" r="3.5" fill="url(#atom)"/><circle cx="172.7" cy="226.2" r="3.6" fill="url(#atom)"/><circle cx="174.0" cy="276.7" r="4.5" fill="url(#atom)"/><circle cx="168.5" cy="259.3" r="5.2" fill="url(#atom)"/><circle cx="146.9" cy="262.9" r="5.4" fill="url(#atom)"/><circle cx="132.5" cy="266.5" r="5.8" fill="url(#atom)"/><circle cx="183.0" cy="250.3" r="6.0" fill="url(#atom)"/><circle cx="110.8" cy="275.5" r="6.5" fill="url(#atom)"/><circle cx="127.7" cy="238.2" r="7.0" fill="url(#atom)"/><circle cx="146.9" cy="286.3" r="8.0" fill="url(#atom)"/></g><rect x="286" y="399" width="220" height="46" fill="#fefaf8"/><path d="M286 339 Q396 337.5 506 341 L506 401 L286 401 Z" fill="#fbeee7"/><path d="M286 339 Q396 337.5 506 341 L506 345 L286 344.5 Z" fill="#f9e5db"/><path d="M286 344.5 L506 345 L506 366.4 L286 366.4 Z" fill="#fdf5f1"/><circle cx="306.1" cy="352.6" r="2.0" fill="#fffcfa" stroke="#f1d3c1" stroke-width="0.8"/><circle cx="447.9" cy="357.8" r="3.0" fill="#fffcfa" stroke="#f1d3c1" stroke-width="0.8"/><circle cx="341.3" cy="350.6" r="4.0" fill="#fffcfa" stroke="#f1d3c1" stroke-width="0.8"/><circle cx="413.9" cy="349.0" r="2.0" fill="#fffcfa" stroke="#f1d3c1" stroke-width="0.8"/><circle cx="426.5" cy="359.3" r="5.0" fill="#fffcfa" stroke="#f1d3c1" stroke-width="0.8"/><circle cx="494.9" cy="355.5" r="6.5" fill="#fffcfa" stroke="#f1d3c1" stroke-width="0.8"/><circle cx="396.5" cy="360.1" r="6.0" fill="#fffcfa" stroke="#f1d3c1" stroke-width="0.8"/><circle cx="366.1" cy="362.6" r="2.0" fill="#fffcfa" stroke="#f1d3c1" stroke-width="0.8"/><circle cx="379.2" cy="360.4" r="5.0" fill="#fffcfa" stroke="#f1d3c1" stroke-width="0.8"/><circle cx="409.3" cy="350.7" r="3.0" fill="#fffcfa" stroke="#f1d3c1" stroke-width="0.8"/><circle cx="324.9" cy="349.3" r="2.0" fill="#fffcfa" stroke="#f1d3c1" stroke-width="0.8"/><circle cx="326.0" cy="359.8" r="6.5" fill="#fffcfa" stroke="#f1d3c1" stroke-width="0.8"/><circle cx="459.7" cy="352.9" r="4.5" fill="#fffcfa" stroke="#f1d3c1" stroke-width="0.8"/><circle cx="478.9" cy="356.9" r="3.0" fill="#fffcfa" stroke="#f1d3c1" stroke-width="0.8"/><circle cx="354.1" cy="360.9" r="6.0" fill="#fffcfa" stroke="#f1d3c1" stroke-width="0.8"/><circle cx="354.6" cy="350.9" r="5.0" fill="#fffcfa" stroke="#f1d3c1" stroke-width="0.8"/><circle cx="485.7" cy="349.6" r="2.0" fill="#fffcfa" stroke="#f1d3c1" stroke-width="0.8"/><circle cx="298.9" cy="357.6" r="2.5" fill="#fffcfa" stroke="#f1d3c1" stroke-width="0.8"/><circle cx="416.2" cy="357.8" r="4.0" fill="#fffcfa" stroke="#f1d3c1" stroke-width="0.8"/><circle cx="452.0" cy="348.8" r="2.5" fill="#fffcfa" stroke="#f1d3c1" stroke-width="0.8"/><circle cx="298.5" cy="352.5" r="2.0" fill="#fffcfa" stroke="#f1d3c1" stroke-width="0.8"/><circle cx="434.0" cy="348.4" r="3.5" fill="#fffcfa" stroke="#f1d3c1" stroke-width="0.8"/><circle cx="291.6" cy="358.9" r="2.5" fill="#fffcfa" stroke="#f1d3c1" stroke-width="0.8"/><circle cx="368.1" cy="348.4" r="2.0" fill="#fffcfa" stroke="#f1d3c1" stroke-width="0.8"/><circle cx="319.3" cy="347.7" r="3.5" fill="#fffcfa" stroke="#f1d3c1" stroke-width="0.8"/><circle cx="348.9" cy="354.8" r="2.5" fill="#fffcfa" stroke="#f1d3c1" stroke-width="0.8"/><circle cx="484.4" cy="359.5" r="2.0" fill="#fffcfa" stroke="#f1d3c1" stroke-width="0.8"/><circle cx="390.0" cy="350.5" r="3.0" fill="#fffcfa" stroke="#f1d3c1" stroke-width="0.8"/><circle cx="470.4" cy="348.1" r="4.5" fill="#fffcfa" stroke="#f1d3c1" stroke-width="0.8"/><circle cx="504.8" cy="350.3" r="2.0" fill="#fffcfa" stroke="#f1d3c1" stroke-width="0.8"/><circle cx="375.9" cy="349.6" r="5.0" fill="#fffcfa" stroke="#f1d3c1" stroke-width="0.8"/><circle cx="400.6" cy="354.4" r="2.0" fill="#fffcfa" stroke="#f1d3c1" stroke-width="0.8"/><circle cx="431.9" cy="354.7" r="2.5" fill="#fffcfa" stroke="#f1d3c1" stroke-width="0.8"/><circle cx="464.7" cy="347.3" r="2.0" fill="#fffcfa" stroke="#f1d3c1" stroke-width="0.8"/><circle cx="287.2" cy="346.9" r="2.5" fill="#fffcfa" stroke="#f1d3c1" stroke-width="0.8"/><circle cx="443.5" cy="350.0" r="5.0" fill="#fffcfa" stroke="#f1d3c1" stroke-width="0.8"/><circle cx="313.1" cy="357.0" r="2.5" fill="#fffcfa" stroke="#f1d3c1" stroke-width="0.8"/><circle cx="406.7" cy="358.0" r="4.0" fill="#fffcfa" stroke="#f1d3c1" stroke-width="0.8"/><circle cx="301.7" cy="349.5" r="2.5" fill="#fffcfa" stroke="#f1d3c1" stroke-width="0.8"/><circle cx="461.7" cy="362.0" r="2.5" fill="#fffcfa" stroke="#f1d3c1" stroke-width="0.8"/><circle cx="314.3" cy="351.4" r="2.0" fill="#fffcfa" stroke="#f1d3c1" stroke-width="0.8"/><circle cx="441.8" cy="361.1" r="3.5" fill="#fffcfa" stroke="#f1d3c1" stroke-width="0.8"/><circle cx="342.6" cy="359.8" r="6.5" fill="#fffcfa" stroke="#f1d3c1" stroke-width="0.8"/><circle cx="388.7" cy="358.6" r="3.0" fill="#fffcfa" stroke="#f1d3c1" stroke-width="0.8"/><circle cx="365.2" cy="355.6" r="6.0" fill="#fffcfa" stroke="#f1d3c1" stroke-width="0.8"/><circle cx="453.6" cy="361.0" r="2.5" fill="#fffcfa" stroke="#f1d3c1" stroke-width="0.8"/><circle cx="403.2" cy="350.1" r="3.5" fill="#fffcfa" stroke="#f1d3c1" stroke-width="0.8"/><circle cx="420.7" cy="353.8" r="2.0" fill="#fffcfa" stroke="#f1d3c1" stroke-width="0.8"/><circle cx="286.7" cy="354.8" r="4.5" fill="#fffcfa" stroke="#f1d3c1" stroke-width="0.8"/><circle cx="452.0" cy="354.7" r="2.5" fill="#fffcfa" stroke="#f1d3c1" stroke-width="0.8"/><circle cx="397.9" cy="350.1" r="2.5" fill="#fffcfa" stroke="#f1d3c1" stroke-width="0.8"/><circle cx="434.6" cy="359.9" r="2.5" fill="#fffcfa" stroke="#f1d3c1" stroke-width="0.8"/><circle cx="333.0" cy="352.9" r="4.5" fill="#fffcfa" stroke="#f1d3c1" stroke-width="0.8"/><circle cx="308.9" cy="349.1" r="2.0" fill="#fffcfa" stroke="#f1d3c1" stroke-width="0.8"/><circle cx="487.9" cy="361.5" r="2.5" fill="#fffcfa" stroke="#f1d3c1" stroke-width="0.8"/><circle cx="316.5" cy="355.0" r="2.0" fill="#fffcfa" stroke="#f1d3c1" stroke-width="0.8"/><circle cx="466.9" cy="355.4" r="2.0" fill="#fffcfa" stroke="#f1d3c1" stroke-width="0.8"/><circle cx="424.0" cy="350.2" r="3.0" fill="#fffcfa" stroke="#f1d3c1" stroke-width="0.8"/><circle cx="437.6" cy="363.7" r="2.0" fill="#fffcfa" stroke="#f1d3c1" stroke-width="0.8"/><circle cx="473.0" cy="355.3" r="4.0" fill="#fffcfa" stroke="#f1d3c1" stroke-width="0.8"/><circle cx="347.5" cy="347.6" r="3.5" fill="#fffcfa" stroke="#f1d3c1" stroke-width="0.8"/><circle cx="437.9" cy="355.1" r="2.5" fill="#fffcfa" stroke="#f1d3c1" stroke-width="0.8"/><circle cx="311.1" cy="362.5" r="2.5" fill="#fffcfa" stroke="#f1d3c1" stroke-width="0.8"/><circle cx="288.3" cy="361.6" r="2.0" fill="#fffcfa" stroke="#f1d3c1" stroke-width="0.8"/><circle cx="317.4" cy="361.2" r="3.0" fill="#fffcfa" stroke="#f1d3c1" stroke-width="0.8"/><circle cx="360.9" cy="348.8" r="2.0" fill="#fffcfa" stroke="#f1d3c1" stroke-width="0.8"/><circle cx="304.9" cy="360.7" r="2.5" fill="#fffcfa" stroke="#f1d3c1" stroke-width="0.8"/><circle cx="372.2" cy="363.1" r="3.0" fill="#fffcfa" stroke="#f1d3c1" stroke-width="0.8"/><circle cx="327.8" cy="346.2" r="2.0" fill="#fffcfa" stroke="#f1d3c1" stroke-width="0.8"/><circle cx="447.6" cy="363.2" r="2.5" fill="#fffcfa" stroke="#f1d3c1" stroke-width="0.8"/><rect x="290.6" y="366.4" width="34.0" height="9.4" rx="1.2" fill="#fdf8f4" stroke="#eec2a6" stroke-width="1"/><rect x="327.1" y="366.4" width="34.0" height="9.4" rx="1.2" fill="#fdf8f4" stroke="#eec2a6" stroke-width="1"/><rect x="363.6" y="366.4" width="34.0" height="9.4" rx="1.2" fill="#fdf8f4" stroke="#eec2a6" stroke-width="1"/><rect x="400.1" y="366.4" width="34.0" height="9.4" rx="1.2" fill="#fdf8f4" stroke="#eec2a6" stroke-width="1"/><rect x="436.6" y="366.4" width="34.0" height="9.4" rx="1.2" fill="#fdf8f4" stroke="#eec2a6" stroke-width="1"/><rect x="473.1" y="366.4" width="34.0" height="9.4" rx="1.2" fill="#fdf8f4" stroke="#eec2a6" stroke-width="1"/><rect x="280.5" y="375.8" width="33.0" height="9.8" rx="1.2" fill="#fdf8f4" stroke="#eec2a6" stroke-width="1"/><rect x="316.0" y="375.8" width="33.0" height="9.8" rx="1.2" fill="#fdf8f4" stroke="#eec2a6" stroke-width="1"/><rect x="351.5" y="375.8" width="33.0" height="9.8" rx="1.2" fill="#fdf8f4" stroke="#eec2a6" stroke-width="1"/><rect x="387.0" y="375.8" width="33.0" height="9.8" rx="1.2" fill="#fdf8f4" stroke="#eec2a6" stroke-width="1"/><rect x="422.5" y="375.8" width="33.0" height="9.8" rx="1.2" fill="#fdf8f4" stroke="#eec2a6" stroke-width="1"/><rect x="458.0" y="375.8" width="33.0" height="9.8" rx="1.2" fill="#fdf8f4" stroke="#eec2a6" stroke-width="1"/><rect x="493.5" y="375.8" width="33.0" height="9.8" rx="1.2" fill="#fdf8f4" stroke="#eec2a6" stroke-width="1"/><rect x="275.9" y="385.8" width="23" height="14" rx="6" fill="#fcefe7" stroke="#ebbc9e" stroke-width="1"/><line x1="282.9" y1="391.6" x2="291.9" y2="391.6" stroke="#e2a680" stroke-width="1.4"/><rect x="300.2" y="385.8" width="23" height="14" rx="6" fill="#fcefe7" stroke="#ebbc9e" stroke-width="1"/><line x1="307.2" y1="391.6" x2="316.2" y2="391.6" stroke="#e2a680" stroke-width="1.4"/><rect x="324.5" y="385.8" width="23" height="14" rx="6" fill="#fcefe7" stroke="#ebbc9e" stroke-width="1"/><line x1="331.5" y1="391.6" x2="340.5" y2="391.6" stroke="#e2a680" stroke-width="1.4"/><rect x="348.8" y="385.8" width="23" height="14" rx="6" fill="#fcefe7" stroke="#ebbc9e" stroke-width="1"/><line x1="355.8" y1="391.6" x2="364.8" y2="391.6" stroke="#e2a680" stroke-width="1.4"/><rect x="373.1" y="385.8" width="23" height="14" rx="6" fill="#fcefe7" stroke="#ebbc9e" stroke-width="1"/><line x1="380.1" y1="391.6" x2="389.1" y2="391.6" stroke="#e2a680" stroke-width="1.4"/><rect x="397.4" y="385.8" width="23" height="14" rx="6" fill="#fcefe7" stroke="#ebbc9e" stroke-width="1"/><line x1="404.4" y1="391.6" x2="413.4" y2="391.6" stroke="#e2a680" stroke-width="1.4"/><rect x="421.7" y="385.8" width="23" height="14" rx="6" fill="#fcefe7" stroke="#ebbc9e" stroke-width="1"/><line x1="428.7" y1="391.6" x2="437.7" y2="391.6" stroke="#e2a680" stroke-width="1.4"/><rect x="446.0" y="385.8" width="23" height="14" rx="6" fill="#fcefe7" stroke="#ebbc9e" stroke-width="1"/><line x1="453.0" y1="391.6" x2="462.0" y2="391.6" stroke="#e2a680" stroke-width="1.4"/><rect x="470.3" y="385.8" width="23" height="14" rx="6" fill="#fcefe7" stroke="#ebbc9e" stroke-width="1"/><line x1="477.3" y1="391.6" x2="486.3" y2="391.6" stroke="#e2a680" stroke-width="1.4"/><rect x="494.6" y="385.8" width="23" height="14" rx="6" fill="#fcefe7" stroke="#ebbc9e" stroke-width="1"/><line x1="501.6" y1="391.6" x2="510.6" y2="391.6" stroke="#e2a680" stroke-width="1.4"/><path d="M372 341.5 Q388 339 400 341.5 Q395 348.5 386 349 Q377 348 372 341.5 Z" fill="url(#pore)" fill-opacity="0.75"/><path d="M286 410.5 Q310 408 328 410.6 Q338 413 342.2 418.4 Q336 429 326.3 433 Q305 435 286 431 Z" fill="#ebc3c3"/><path d="M336.5 445 Q345 436 351.6 433 Q358 425 360.5 417.8 Q362 410 363 407.7 Q366 403 370.6 402.6 L396 403.9 Q396 412 394.7 419 Q388 425 380.8 427.9 Q370 432 361.8 436.8 Q354 441 350.4 445 Z" fill="#ebc3c3"/><path d="M358 445 Q365 440 377 435.5 Q386 432 396 431.7 Q405 431 411 433 Q418 436 423 445 Z" fill="#ebc3c3"/><path d="M434 414 Q440 411.5 448 411.5 Q456 412 463 414 Q470 418 475.8 424 Q480 428 483.4 433 Q486 438 488.5 445 L439 445 Q436 430 434 414 Z" fill="#ebc3c3"/><path d="M498.6 411 Q503 409 506 410 L506 429 Q500 425 498.6 411 Z" fill="#ebc3c3"/><path d="M370 345 Q372 347 372 352 Q372 382 364 393 L369.6 396.7 L343 416 L341.7 387 L356 392 Q367 378 368 352 Z" fill="#bed4ec" fill-opacity="0.7"/><path d="M406 345 Q404 347 404 352 Q404 382 412 393 L411.3 396.7 L435 416 L436.4 387 L420 392 Q409 378 408 352 Z" fill="#bed4ec" fill-opacity="0.7"/><path d="M379 343 Q368 333 354 336.5" fill="none" stroke="#b3cbe4" stroke-width="3"/><path d="M349 337 L357 331 L356.5 342 Z" fill="#b3cbe4"/><path d="M398.5 343 Q409 333 421.5 336" fill="none" stroke="#b3cbe4" stroke-width="3"/><path d="M426.5 336.5 L419 330.5 L419.5 341.5 Z" fill="#b3cbe4"/><circle cx="375.0" cy="329.8" r="4.2" fill="url(#bub)" fill-opacity="0.92"/><circle cx="388.2" cy="328.3" r="3.5" fill="url(#bub)" fill-opacity="0.92"/><circle cx="382.3" cy="336.7" r="2.2" fill="url(#bub)" fill-opacity="0.92"/><circle cx="389.2" cy="342.6" r="3.5" fill="url(#bub)" fill-opacity="0.92"/><circle cx="385.7" cy="351.5" r="2.5" fill="url(#bub)" fill-opacity="0.92"/><circle cx="310.3" cy="358.0" r="3.0" fill="url(#bub)" fill-opacity="0.92"/><circle cx="318.7" cy="358.0" r="3.0" fill="url(#bub)" fill-opacity="0.92"/><circle cx="330.0" cy="361.0" r="4.0" fill="url(#bub)" fill-opacity="0.92"/><circle cx="335.6" cy="351.0" r="2.5" fill="url(#bub)" fill-opacity="0.92"/><circle cx="354.7" cy="358.0" r="3.5" fill="url(#bub)" fill-opacity="0.92"/><circle cx="428.3" cy="352.5" r="3.0" fill="url(#bub)" fill-opacity="0.92"/><circle cx="438.0" cy="356.7" r="2.2" fill="url(#bub)" fill-opacity="0.92"/><circle cx="452.1" cy="355.3" r="3.0" fill="url(#bub)" fill-opacity="0.92"/><circle cx="460.6" cy="352.5" r="3.0" fill="url(#bub)" fill-opacity="0.92"/><circle cx="474.6" cy="355.3" r="2.5" fill="url(#bub)" fill-opacity="0.92"/><circle cx="484.4" cy="356.7" r="5.0" fill="url(#bub)" fill-opacity="0.92"/><circle cx="297.1" cy="432.9" r="6.0" fill="url(#bub)" fill-opacity="0.92"/><circle cx="313.9" cy="420.4" r="3.5" fill="url(#bub)" fill-opacity="0.92"/><circle cx="335.6" cy="421.8" r="4.0" fill="url(#bub)" fill-opacity="0.92"/><circle cx="349.5" cy="416.2" r="2.5" fill="url(#bub)" fill-opacity="0.92"/><circle cx="348.7" cy="430.1" r="3.0" fill="url(#bub)" fill-opacity="0.92"/><circle cx="359.0" cy="424.6" r="2.0" fill="url(#bub)" fill-opacity="0.92"/><circle cx="369.6" cy="412.0" r="2.5" fill="url(#bub)" fill-opacity="0.92"/><circle cx="374.6" cy="421.8" r="3.0" fill="url(#bub)" fill-opacity="0.92"/><circle cx="369.6" cy="428.7" r="2.0" fill="url(#bub)" fill-opacity="0.92"/><circle cx="392.7" cy="416.2" r="4.0" fill="url(#bub)" fill-opacity="0.92"/><circle cx="407.7" cy="429.6" r="6.5" fill="url(#bub)" fill-opacity="0.92"/><circle cx="409.4" cy="416.2" r="2.5" fill="url(#bub)" fill-opacity="0.92"/><circle cx="429.5" cy="426.0" r="3.5" fill="url(#bub)" fill-opacity="0.92"/><circle cx="440.6" cy="414.8" r="4.5" fill="url(#bub)" fill-opacity="0.92"/><circle cx="464.3" cy="417.6" r="3.0" fill="url(#bub)" fill-opacity="0.92"/><circle cx="476.8" cy="426.0" r="2.5" fill="url(#bub)" fill-opacity="0.92"/><circle cx="490.7" cy="434.3" r="4.5" fill="url(#bub)" fill-opacity="0.92"/></svg></div>
<div class="h" style="left:286px">激发修护</div>
<div class="d" style="left:286px">赋予肌肤细胞充足<br>养分，<span style="display:inline-block;width:7px"></span> 提升细胞修<br>护能力</div>
<div class="box" style="left:531px"><svg width="220" height="250" viewBox="531 194 220 250" style="left:-1px;top:-1px"><rect x="531" y="194" width="220" height="250" fill="#fdf6f3"/><g transform="translate(490,0)"><line x1="140.6" y1="217.3" x2="147.7" y2="227.2" stroke="#8fb3d8" stroke-width="1.7999999999999998"/><line x1="140.6" y1="217.3" x2="147.7" y2="227.2" stroke="#d6e6f4" stroke-width="0.7999999999999999"/><line x1="159.9" y1="220.6" x2="147.7" y2="227.2" stroke="#8fb3d8" stroke-width="1.7999999999999998"/><line x1="159.9" y1="220.6" x2="147.7" y2="227.2" stroke="#d6e6f4" stroke-width="0.7999999999999999"/><line x1="147.7" y1="227.2" x2="140.1" y2="235.2" stroke="#8fb3d8" stroke-width="1.7999999999999998"/><line x1="147.7" y1="227.2" x2="140.1" y2="235.2" stroke="#d6e6f4" stroke-width="0.7999999999999999"/><line x1="147.7" y1="227.2" x2="150.5" y2="232.9" stroke="#8fb3d8" stroke-width="1.7999999999999998"/><line x1="147.7" y1="227.2" x2="150.5" y2="232.9" stroke="#d6e6f4" stroke-width="0.7999999999999999"/><line x1="150.5" y1="232.9" x2="149.1" y2="243.7" stroke="#8fb3d8" stroke-width="1.7999999999999998"/><line x1="150.5" y1="232.9" x2="149.1" y2="243.7" stroke="#d6e6f4" stroke-width="0.7999999999999999"/><line x1="149.1" y1="243.7" x2="139.2" y2="243.2" stroke="#8fb3d8" stroke-width="1.7999999999999998"/><line x1="149.1" y1="243.7" x2="139.2" y2="243.2" stroke="#d6e6f4" stroke-width="0.7999999999999999"/><line x1="149.1" y1="243.7" x2="152.9" y2="245.1" stroke="#8fb3d8" stroke-width="1.7999999999999998"/><line x1="149.1" y1="243.7" x2="152.9" y2="245.1" stroke="#d6e6f4" stroke-width="0.7999999999999999"/><line x1="149.1" y1="243.7" x2="150.0" y2="251.3" stroke="#8fb3d8" stroke-width="1.7999999999999998"/><line x1="149.1" y1="243.7" x2="150.0" y2="251.3" stroke="#d6e6f4" stroke-width="0.7999999999999999"/><line x1="150.5" y1="232.9" x2="158.5" y2="232.4" stroke="#8fb3d8" stroke-width="1.7999999999999998"/><line x1="150.5" y1="232.9" x2="158.5" y2="232.4" stroke="#d6e6f4" stroke-width="0.7999999999999999"/><line x1="158.5" y1="232.4" x2="161.8" y2="229.6" stroke="#8fb3d8" stroke-width="1.7999999999999998"/><line x1="158.5" y1="232.4" x2="161.8" y2="229.6" stroke="#d6e6f4" stroke-width="0.7999999999999999"/><line x1="158.5" y1="232.4" x2="165.6" y2="235.2" stroke="#8fb3d8" stroke-width="1.7999999999999998"/><line x1="158.5" y1="232.4" x2="165.6" y2="235.2" stroke="#d6e6f4" stroke-width="0.7999999999999999"/><line x1="165.6" y1="235.2" x2="171.7" y2="237.6" stroke="#8fb3d8" stroke-width="1.7999999999999998"/><line x1="165.6" y1="235.2" x2="171.7" y2="237.6" stroke="#d6e6f4" stroke-width="0.7999999999999999"/><line x1="172.7" y1="226.2" x2="171.7" y2="237.6" stroke="#8fb3d8" stroke-width="1.7999999999999998"/><line x1="172.7" y1="226.2" x2="171.7" y2="237.6" stroke="#d6e6f4" stroke-width="0.7999999999999999"/><line x1="171.7" y1="237.6" x2="183.1" y2="240.4" stroke="#8fb3d8" stroke-width="1.7999999999999998"/><line x1="171.7" y1="237.6" x2="183.1" y2="240.4" stroke="#d6e6f4" stroke-width="0.7999999999999999"/><line x1="171.7" y1="237.6" x2="166.3" y2="250.0" stroke="#8fb3d8" stroke-width="1.7999999999999998"/><line x1="171.7" y1="237.6" x2="166.3" y2="250.0" stroke="#d6e6f4" stroke-width="0.7999999999999999"/><line x1="166.3" y1="250.0" x2="168.5" y2="259.3" stroke="#8fb3d8" stroke-width="2.2"/><line x1="166.3" y1="250.0" x2="168.5" y2="259.3" stroke="#d6e6f4" stroke-width="1.2000000000000002"/><line x1="168.5" y1="259.3" x2="174.0" y2="276.7" stroke="#8fb3d8" stroke-width="2.2"/><line x1="168.5" y1="259.3" x2="174.0" y2="276.7" stroke="#d6e6f4" stroke-width="1.2000000000000002"/><line x1="132.5" y1="266.5" x2="110.8" y2="275.5" stroke="#8fb3d8" stroke-width="2.2"/><line x1="132.5" y1="266.5" x2="110.8" y2="275.5" stroke="#d6e6f4" stroke-width="1.2000000000000002"/><line x1="132.5" y1="266.5" x2="146.9" y2="262.9" stroke="#8fb3d8" stroke-width="2.2"/><line x1="132.5" y1="266.5" x2="146.9" y2="262.9" stroke="#d6e6f4" stroke-width="1.2000000000000002"/><line x1="146.9" y1="262.9" x2="168.5" y2="259.3" stroke="#8fb3d8" stroke-width="2.2"/><line x1="146.9" y1="262.9" x2="168.5" y2="259.3" stroke="#d6e6f4" stroke-width="1.2000000000000002"/><line x1="126.4" y1="238.4" x2="131.2" y2="266.7" stroke="#86acd4" stroke-width="1.5"/><line x1="129.0" y1="238.0" x2="133.8" y2="266.3" stroke="#86acd4" stroke-width="1.5"/><line x1="131.4" y1="267.3" x2="145.8" y2="287.1" stroke="#86acd4" stroke-width="1.5"/><line x1="133.6" y1="265.7" x2="148.0" y2="285.5" stroke="#86acd4" stroke-width="1.5"/><line x1="169.2" y1="260.4" x2="183.7" y2="251.4" stroke="#86acd4" stroke-width="1.5"/><line x1="167.8" y1="258.2" x2="182.3" y2="249.2" stroke="#86acd4" stroke-width="1.5"/><circle cx="158.5" cy="232.4" r="2.0" fill="url(#atom)"/><circle cx="139.2" cy="243.2" r="2.0" fill="url(#atom)"/><circle cx="152.9" cy="245.1" r="2.0" fill="url(#atom)"/><circle cx="161.8" cy="229.6" r="2.2" fill="url(#atom)"/><circle cx="150.5" cy="232.9" r="2.4" fill="url(#atom)"/><circle cx="165.6" cy="235.2" r="2.4" fill="url(#atom)"/><circle cx="147.7" cy="227.2" r="2.6" fill="url(#atom)"/><circle cx="149.1" cy="243.7" r="2.6" fill="url(#atom)"/><circle cx="171.7" cy="237.6" r="2.8" fill="url(#atom)"/><circle cx="140.6" cy="217.3" r="3.0" fill="url(#atom)"/><circle cx="183.1" cy="240.4" r="3.0" fill="url(#atom)"/><circle cx="140.1" cy="235.2" r="3.2" fill="url(#atom)"/><circle cx="150.0" cy="251.3" r="3.4" fill="url(#atom)"/><circle cx="166.3" cy="250.0" r="3.4" fill="url(#atom)"/><circle cx="159.9" cy="220.6" r="3.5" fill="url(#atom)"/><circle cx="172.7" cy="226.2" r="3.6" fill="url(#atom)"/><circle cx="174.0" cy="276.7" r="4.5" fill="url(#atom)"/><circle cx="168.5" cy="259.3" r="5.2" fill="url(#atom)"/><circle cx="146.9" cy="262.9" r="5.4" fill="url(#atom)"/><circle cx="132.5" cy="266.5" r="5.8" fill="url(#atom)"/><circle cx="183.0" cy="250.3" r="6.0" fill="url(#atom)"/><circle cx="110.8" cy="275.5" r="6.5" fill="url(#atom)"/><circle cx="127.7" cy="238.2" r="7.0" fill="url(#atom)"/><circle cx="146.9" cy="286.3" r="8.0" fill="url(#atom)"/></g><rect x="531" y="399" width="220" height="46" fill="#fefaf8"/><path d="M531 340 Q641 338.5 751 342 L751 401 L531 401 Z" fill="#fbeee7"/><path d="M531 340 Q641 338.5 751 342 L751 345 L531 344.5 Z" fill="#f9e5db"/><path d="M531 344.5 L751 345 L751 366.4 L531 366.4 Z" fill="#fdf5f1"/><circle cx="661.4" cy="349.2" r="3.5" fill="#fffcfa" stroke="#f1d3c1" stroke-width="0.8"/><circle cx="730.9" cy="354.5" r="2.0" fill="#fffcfa" stroke="#f1d3c1" stroke-width="0.8"/><circle cx="582.6" cy="361.0" r="6.5" fill="#fffcfa" stroke="#f1d3c1" stroke-width="0.8"/><circle cx="650.0" cy="355.6" r="6.0" fill="#fffcfa" stroke="#f1d3c1" stroke-width="0.8"/><circle cx="671.6" cy="350.1" r="5.0" fill="#fffcfa" stroke="#f1d3c1" stroke-width="0.8"/><circle cx="722.0" cy="355.4" r="3.0" fill="#fffcfa" stroke="#f1d3c1" stroke-width="0.8"/><circle cx="678.7" cy="347.3" r="2.0" fill="#fffcfa" stroke="#f1d3c1" stroke-width="0.8"/><circle cx="597.3" cy="346.7" r="2.0" fill="#fffcfa" stroke="#f1d3c1" stroke-width="0.8"/><circle cx="635.0" cy="358.3" r="4.0" fill="#fffcfa" stroke="#f1d3c1" stroke-width="0.8"/><circle cx="688.1" cy="360.9" r="5.0" fill="#fffcfa" stroke="#f1d3c1" stroke-width="0.8"/><circle cx="724.4" cy="348.4" r="3.0" fill="#fffcfa" stroke="#f1d3c1" stroke-width="0.8"/><circle cx="639.9" cy="351.0" r="3.0" fill="#fffcfa" stroke="#f1d3c1" stroke-width="0.8"/><circle cx="702.4" cy="360.0" r="5.0" fill="#fffcfa" stroke="#f1d3c1" stroke-width="0.8"/><circle cx="719.4" cy="363.6" r="2.0" fill="#fffcfa" stroke="#f1d3c1" stroke-width="0.8"/><circle cx="684.7" cy="352.2" r="3.0" fill="#fffcfa" stroke="#f1d3c1" stroke-width="0.8"/><circle cx="670.3" cy="362.7" r="3.5" fill="#fffcfa" stroke="#f1d3c1" stroke-width="0.8"/><circle cx="550.5" cy="358.8" r="6.0" fill="#fffcfa" stroke="#f1d3c1" stroke-width="0.8"/><circle cx="664.1" cy="359.6" r="2.0" fill="#fffcfa" stroke="#f1d3c1" stroke-width="0.8"/><circle cx="642.2" cy="362.6" r="4.0" fill="#fffcfa" stroke="#f1d3c1" stroke-width="0.8"/><circle cx="532.6" cy="349.0" r="4.0" fill="#fffcfa" stroke="#f1d3c1" stroke-width="0.8"/><circle cx="746.6" cy="352.2" r="2.0" fill="#fffcfa" stroke="#f1d3c1" stroke-width="0.8"/><circle cx="741.9" cy="360.8" r="4.5" fill="#fffcfa" stroke="#f1d3c1" stroke-width="0.8"/><circle cx="613.9" cy="360.2" r="5.0" fill="#fffcfa" stroke="#f1d3c1" stroke-width="0.8"/><circle cx="737.0" cy="354.0" r="3.5" fill="#fffcfa" stroke="#f1d3c1" stroke-width="0.8"/><circle cx="535.4" cy="356.7" r="4.5" fill="#fffcfa" stroke="#f1d3c1" stroke-width="0.8"/><circle cx="693.4" cy="347.7" r="4.0" fill="#fffcfa" stroke="#f1d3c1" stroke-width="0.8"/><circle cx="741.1" cy="346.6" r="2.0" fill="#fffcfa" stroke="#f1d3c1" stroke-width="0.8"/><circle cx="570.0" cy="350.4" r="4.5" fill="#fffcfa" stroke="#f1d3c1" stroke-width="0.8"/><circle cx="716.6" cy="351.6" r="4.5" fill="#fffcfa" stroke="#f1d3c1" stroke-width="0.8"/><circle cx="583.5" cy="350.2" r="4.0" fill="#fffcfa" stroke="#f1d3c1" stroke-width="0.8"/><circle cx="627.5" cy="360.6" r="3.5" fill="#fffcfa" stroke="#f1d3c1" stroke-width="0.8"/><circle cx="704.1" cy="347.6" r="3.5" fill="#fffcfa" stroke="#f1d3c1" stroke-width="0.8"/><circle cx="600.3" cy="360.3" r="3.5" fill="#fffcfa" stroke="#f1d3c1" stroke-width="0.8"/><circle cx="708.4" cy="352.4" r="2.5" fill="#fffcfa" stroke="#f1d3c1" stroke-width="0.8"/><circle cx="623.7" cy="355.3" r="3.0" fill="#fffcfa" stroke="#f1d3c1" stroke-width="0.8"/><circle cx="557.4" cy="351.1" r="4.0" fill="#fffcfa" stroke="#f1d3c1" stroke-width="0.8"/><circle cx="729.8" cy="358.4" r="2.0" fill="#fffcfa" stroke="#f1d3c1" stroke-width="0.8"/><circle cx="606.1" cy="350.8" r="2.5" fill="#fffcfa" stroke="#f1d3c1" stroke-width="0.8"/><circle cx="568.7" cy="360.0" r="2.5" fill="#fffcfa" stroke="#f1d3c1" stroke-width="0.8"/><circle cx="712.2" cy="346.9" r="3.0" fill="#fffcfa" stroke="#f1d3c1" stroke-width="0.8"/><circle cx="542.0" cy="351.8" r="5.0" fill="#fffcfa" stroke="#f1d3c1" stroke-width="0.8"/><circle cx="719.5" cy="359.8" r="2.0" fill="#fffcfa" stroke="#f1d3c1" stroke-width="0.8"/><circle cx="655.7" cy="347.2" r="2.5" fill="#fffcfa" stroke="#f1d3c1" stroke-width="0.8"/><circle cx="635.2" cy="350.4" r="2.0" fill="#fffcfa" stroke="#f1d3c1" stroke-width="0.8"/><circle cx="606.1" cy="361.2" r="2.0" fill="#fffcfa" stroke="#f1d3c1" stroke-width="0.8"/><circle cx="658.4" cy="359.5" r="4.0" fill="#fffcfa" stroke="#f1d3c1" stroke-width="0.8"/><circle cx="750.2" cy="356.1" r="2.0" fill="#fffcfa" stroke="#f1d3c1" stroke-width="0.8"/><circle cx="736.6" cy="347.5" r="2.5" fill="#fffcfa" stroke="#f1d3c1" stroke-width="0.8"/><circle cx="561.0" cy="359.1" r="3.0" fill="#fffcfa" stroke="#f1d3c1" stroke-width="0.8"/><circle cx="678.7" cy="360.4" r="4.0" fill="#fffcfa" stroke="#f1d3c1" stroke-width="0.8"/><circle cx="728.9" cy="350.7" r="2.0" fill="#fffcfa" stroke="#f1d3c1" stroke-width="0.8"/><circle cx="600.0" cy="353.6" r="2.0" fill="#fffcfa" stroke="#f1d3c1" stroke-width="0.8"/><circle cx="614.5" cy="349.1" r="5.0" fill="#fffcfa" stroke="#f1d3c1" stroke-width="0.8"/><circle cx="620.9" cy="361.1" r="2.0" fill="#fffcfa" stroke="#f1d3c1" stroke-width="0.8"/><circle cx="689.3" cy="352.7" r="2.0" fill="#fffcfa" stroke="#f1d3c1" stroke-width="0.8"/><circle cx="628.4" cy="349.8" r="3.0" fill="#fffcfa" stroke="#f1d3c1" stroke-width="0.8"/><circle cx="685.8" cy="347.1" r="2.0" fill="#fffcfa" stroke="#f1d3c1" stroke-width="0.8"/><circle cx="591.5" cy="359.4" r="4.0" fill="#fffcfa" stroke="#f1d3c1" stroke-width="0.8"/><circle cx="724.3" cy="361.6" r="2.0" fill="#fffcfa" stroke="#f1d3c1" stroke-width="0.8"/><circle cx="750.3" cy="347.7" r="4.5" fill="#fffcfa" stroke="#f1d3c1" stroke-width="0.8"/><circle cx="594.3" cy="350.4" r="3.5" fill="#fffcfa" stroke="#f1d3c1" stroke-width="0.8"/><circle cx="712.6" cy="357.9" r="3.5" fill="#fffcfa" stroke="#f1d3c1" stroke-width="0.8"/><circle cx="537.5" cy="346.9" r="2.0" fill="#fffcfa" stroke="#f1d3c1" stroke-width="0.8"/><circle cx="541.7" cy="362.6" r="3.0" fill="#fffcfa" stroke="#f1d3c1" stroke-width="0.8"/><circle cx="750.3" cy="362.0" r="4.5" fill="#fffcfa" stroke="#f1d3c1" stroke-width="0.8"/><circle cx="561.7" cy="347.6" r="2.0" fill="#fffcfa" stroke="#f1d3c1" stroke-width="0.8"/><circle cx="576.7" cy="351.7" r="2.5" fill="#fffcfa" stroke="#f1d3c1" stroke-width="0.8"/><circle cx="696.3" cy="353.4" r="3.0" fill="#fffcfa" stroke="#f1d3c1" stroke-width="0.8"/><circle cx="589.3" cy="347.7" r="2.5" fill="#fffcfa" stroke="#f1d3c1" stroke-width="0.8"/><circle cx="673.8" cy="356.5" r="2.0" fill="#fffcfa" stroke="#f1d3c1" stroke-width="0.8"/><rect x="527.0" y="366.4" width="33.3" height="9.4" rx="1.2" fill="#fdf8f4" stroke="#eec2a6" stroke-width="1"/><rect x="562.8" y="366.4" width="33.3" height="9.4" rx="1.2" fill="#fdf8f4" stroke="#eec2a6" stroke-width="1"/><rect x="598.6" y="366.4" width="33.3" height="9.4" rx="1.2" fill="#fdf8f4" stroke="#eec2a6" stroke-width="1"/><rect x="634.4" y="366.4" width="33.3" height="9.4" rx="1.2" fill="#fdf8f4" stroke="#eec2a6" stroke-width="1"/><rect x="670.2" y="366.4" width="33.3" height="9.4" rx="1.2" fill="#fdf8f4" stroke="#eec2a6" stroke-width="1"/><rect x="706.0" y="366.4" width="33.3" height="9.4" rx="1.2" fill="#fdf8f4" stroke="#eec2a6" stroke-width="1"/><rect x="741.8" y="366.4" width="33.3" height="9.4" rx="1.2" fill="#fdf8f4" stroke="#eec2a6" stroke-width="1"/><rect x="517.5" y="375.8" width="32.5" height="9.8" rx="1.2" fill="#fdf8f4" stroke="#eec2a6" stroke-width="1"/><rect x="552.5" y="375.8" width="32.5" height="9.8" rx="1.2" fill="#fdf8f4" stroke="#eec2a6" stroke-width="1"/><rect x="587.5" y="375.8" width="32.5" height="9.8" rx="1.2" fill="#fdf8f4" stroke="#eec2a6" stroke-width="1"/><rect x="622.5" y="375.8" width="32.5" height="9.8" rx="1.2" fill="#fdf8f4" stroke="#eec2a6" stroke-width="1"/><rect x="657.5" y="375.8" width="32.5" height="9.8" rx="1.2" fill="#fdf8f4" stroke="#eec2a6" stroke-width="1"/><rect x="692.5" y="375.8" width="32.5" height="9.8" rx="1.2" fill="#fdf8f4" stroke="#eec2a6" stroke-width="1"/><rect x="727.5" y="375.8" width="32.5" height="9.8" rx="1.2" fill="#fdf8f4" stroke="#eec2a6" stroke-width="1"/><rect x="538.8" y="385.8" width="23" height="14" rx="6" fill="#fcefe7" stroke="#ebbc9e" stroke-width="1"/><line x1="545.8" y1="391.6" x2="554.8" y2="391.6" stroke="#e2a680" stroke-width="1.4"/><rect x="563.2" y="385.8" width="23" height="14" rx="6" fill="#fcefe7" stroke="#ebbc9e" stroke-width="1"/><line x1="570.2" y1="391.6" x2="579.2" y2="391.6" stroke="#e2a680" stroke-width="1.4"/><rect x="587.6" y="385.8" width="23" height="14" rx="6" fill="#fcefe7" stroke="#ebbc9e" stroke-width="1"/><line x1="594.6" y1="391.6" x2="603.6" y2="391.6" stroke="#e2a680" stroke-width="1.4"/><rect x="612.0" y="385.8" width="23" height="14" rx="6" fill="#fcefe7" stroke="#ebbc9e" stroke-width="1"/><line x1="619.0" y1="391.6" x2="628.0" y2="391.6" stroke="#e2a680" stroke-width="1.4"/><rect x="636.4" y="385.8" width="23" height="14" rx="6" fill="#fcefe7" stroke="#ebbc9e" stroke-width="1"/><line x1="643.4" y1="391.6" x2="652.4" y2="391.6" stroke="#e2a680" stroke-width="1.4"/><rect x="660.8" y="385.8" width="23" height="14" rx="6" fill="#fcefe7" stroke="#ebbc9e" stroke-width="1"/><line x1="667.8" y1="391.6" x2="676.8" y2="391.6" stroke="#e2a680" stroke-width="1.4"/><rect x="685.2" y="385.8" width="23" height="14" rx="6" fill="#fcefe7" stroke="#ebbc9e" stroke-width="1"/><line x1="692.2" y1="391.6" x2="701.2" y2="391.6" stroke="#e2a680" stroke-width="1.4"/><rect x="709.6" y="385.8" width="23" height="14" rx="6" fill="#fcefe7" stroke="#ebbc9e" stroke-width="1"/><line x1="716.6" y1="391.6" x2="725.6" y2="391.6" stroke="#e2a680" stroke-width="1.4"/><rect x="734.0" y="385.8" width="23" height="14" rx="6" fill="#fcefe7" stroke="#ebbc9e" stroke-width="1"/><line x1="741.0" y1="391.6" x2="750.0" y2="391.6" stroke="#e2a680" stroke-width="1.4"/><path d="M531 409 Q550 407.5 564.8 408.2 Q570 411 574.6 420 Q570 428 564.8 431.2 Q548 433 531 432.6 Z" fill="#ebc3c3"/><path d="M596.8 445 Q598 432 599.6 422.9 Q600 412 601 407.5 Q603 403.5 608 402.7 Q615 401.3 622 401.3 Q628 401.5 630.3 403.4 Q629 412 627.5 422.9 Q624 428 619 431.2 Q612 436 608 445 Z" fill="#ebc3c3"/><path d="M614 445 Q622 432 636.7 426 Q648 430 653.6 437 Q658 441 660 445 Z" fill="#ebc3c3"/><path d="M662.7 412 Q671 411 679.7 411.3 Q689 413 696.7 416.3 Q705 420 711 424.8 Q716 430 719.4 436 Q722 440 723.7 445 L672.6 445 Q668 428 662.7 412 Z" fill="#ebc3c3"/><circle cx="743" cy="420.5" r="12.5" fill="#ebc3c3"/><line x1="633.2" y1="339" x2="633.2" y2="404" stroke="#c3d8ee" stroke-width="1.5" stroke-opacity="0.9"/><path d="M627.5 358.5 L639 358.5 L633.2 366 Z" fill="#bcd4ec"/><path d="M627.5 397.5 L639 397.5 L633.2 405 Z" fill="#bcd4ec"/><circle cx="626.3" cy="314.4" r="3.5" fill="url(#bub)" fill-opacity="0.92"/><circle cx="644.6" cy="318.8" r="5.8" fill="url(#bub)" fill-opacity="0.92"/><circle cx="631.2" cy="328.5" r="3.0" fill="url(#bub)" fill-opacity="0.92"/><circle cx="546.9" cy="356.7" r="3.0" fill="url(#bub)" fill-opacity="0.92"/><circle cx="555.3" cy="358.1" r="3.0" fill="url(#bub)" fill-opacity="0.92"/><circle cx="566.5" cy="360.3" r="4.0" fill="url(#bub)" fill-opacity="0.92"/><circle cx="572.1" cy="351.0" r="2.5" fill="url(#bub)" fill-opacity="0.92"/><circle cx="590.4" cy="358.1" r="3.5" fill="url(#bub)" fill-opacity="0.92"/><circle cx="604.4" cy="359.5" r="2.5" fill="url(#bub)" fill-opacity="0.92"/><circle cx="611.5" cy="360.9" r="2.0" fill="url(#bub)" fill-opacity="0.92"/><circle cx="617.1" cy="360.9" r="2.5" fill="url(#bub)" fill-opacity="0.92"/><circle cx="645.2" cy="360.9" r="3.0" fill="url(#bub)" fill-opacity="0.92"/><circle cx="652.2" cy="358.1" r="2.5" fill="url(#bub)" fill-opacity="0.92"/><circle cx="663.4" cy="352.5" r="3.5" fill="url(#bub)" fill-opacity="0.92"/><circle cx="676.0" cy="355.3" r="2.5" fill="url(#bub)" fill-opacity="0.92"/><circle cx="684.5" cy="356.7" r="2.5" fill="url(#bub)" fill-opacity="0.92"/><circle cx="694.3" cy="352.5" r="3.0" fill="url(#bub)" fill-opacity="0.92"/><circle cx="705.6" cy="356.7" r="2.5" fill="url(#bub)" fill-opacity="0.92"/><circle cx="718.2" cy="356.7" r="5.0" fill="url(#bub)" fill-opacity="0.92"/><circle cx="732.2" cy="358.1" r="2.0" fill="url(#bub)" fill-opacity="0.92"/><circle cx="575.0" cy="406.2" r="3.5" fill="url(#bub)" fill-opacity="0.92"/><circle cx="586.2" cy="414.7" r="2.5" fill="url(#bub)" fill-opacity="0.92"/><circle cx="570.7" cy="420.3" r="4.5" fill="url(#bub)" fill-opacity="0.92"/><circle cx="551.0" cy="418.9" r="3.0" fill="url(#bub)" fill-opacity="0.92"/><circle cx="535.6" cy="431.5" r="6.0" fill="url(#bub)" fill-opacity="0.92"/><circle cx="573.5" cy="431.5" r="3.5" fill="url(#bub)" fill-opacity="0.92"/><circle cx="584.8" cy="430.1" r="2.5" fill="url(#bub)" fill-opacity="0.92"/><circle cx="598.8" cy="434.3" r="5.0" fill="url(#bub)" fill-opacity="0.92"/><circle cx="597.4" cy="423.0" r="2.0" fill="url(#bub)" fill-opacity="0.92"/><circle cx="594.6" cy="406.2" r="2.0" fill="url(#bub)" fill-opacity="0.92"/><circle cx="611.5" cy="403.4" r="3.0" fill="url(#bub)" fill-opacity="0.92"/><circle cx="614.3" cy="418.9" r="3.5" fill="url(#bub)" fill-opacity="0.92"/><circle cx="605.8" cy="425.9" r="2.5" fill="url(#bub)" fill-opacity="0.92"/><circle cx="624.1" cy="406.2" r="4.0" fill="url(#bub)" fill-opacity="0.92"/><circle cx="626.9" cy="414.7" r="2.5" fill="url(#bub)" fill-opacity="0.92"/><circle cx="626.9" cy="427.3" r="5.0" fill="url(#bub)" fill-opacity="0.92"/><circle cx="614.3" cy="437.1" r="3.0" fill="url(#bub)" fill-opacity="0.92"/><circle cx="631.1" cy="437.1" r="2.5" fill="url(#bub)" fill-opacity="0.92"/><circle cx="641.0" cy="406.2" r="3.5" fill="url(#bub)" fill-opacity="0.92"/><circle cx="642.4" cy="425.9" r="6.0" fill="url(#bub)" fill-opacity="0.92"/><circle cx="650.8" cy="406.2" r="2.5" fill="url(#bub)" fill-opacity="0.92"/><circle cx="657.8" cy="411.9" r="3.0" fill="url(#bub)" fill-opacity="0.92"/><circle cx="648.0" cy="417.5" r="2.0" fill="url(#bub)" fill-opacity="0.92"/><circle cx="662.0" cy="424.5" r="3.0" fill="url(#bub)" fill-opacity="0.92"/><circle cx="664.8" cy="434.3" r="4.0" fill="url(#bub)" fill-opacity="0.92"/><circle cx="676.0" cy="411.9" r="4.5" fill="url(#bub)" fill-opacity="0.92"/><circle cx="673.3" cy="423.0" r="4.5" fill="url(#bub)" fill-opacity="0.92"/><circle cx="685.9" cy="417.5" r="2.5" fill="url(#bub)" fill-opacity="0.92"/><circle cx="681.7" cy="431.5" r="3.0" fill="url(#bub)" fill-opacity="0.92"/><circle cx="692.9" cy="428.7" r="5.0" fill="url(#bub)" fill-opacity="0.92"/><circle cx="698.5" cy="414.7" r="3.0" fill="url(#bub)" fill-opacity="0.92"/><circle cx="709.8" cy="406.2" r="4.5" fill="url(#bub)" fill-opacity="0.92"/><circle cx="721.0" cy="406.2" r="2.5" fill="url(#bub)" fill-opacity="0.92"/><circle cx="712.6" cy="432.9" r="4.5" fill="url(#bub)" fill-opacity="0.92"/><circle cx="725.2" cy="431.5" r="5.0" fill="url(#bub)" fill-opacity="0.92"/><circle cx="704.2" cy="434.3" r="2.5" fill="url(#bub)" fill-opacity="0.92"/><circle cx="670.4" cy="437.1" r="2.5" fill="url(#bub)" fill-opacity="0.92"/></svg></div>
<div class="h" style="left:531px">逐步改善</div>
<div class="d" style="left:531px">伴随细胞更新周期<br>层层改善肌肤，<span style="display:inline-block;width:7px"></span> 重<br>返健康肌</div>
<svg class="arr" style="left:258px;top:295px" width="32" height="30" viewBox="0 0 32 30"><path d="M7.6 8.3 L23.4 15.8 L8.3 22.4 L11.3 15.8 Z" fill="#0f1a6e"/></svg>
<svg class="arr" style="left:503px;top:295px" width="32" height="30" viewBox="0 0 32 30"><path d="M7.6 8.3 L23.4 15.8 L8.3 22.4 L11.3 15.8 Z" fill="#0f1a6e"/></svg>
<div class="t" id="wm">广州颜哲生物科技有限公司</div>
<div id="strip"></div>
</body></html>
